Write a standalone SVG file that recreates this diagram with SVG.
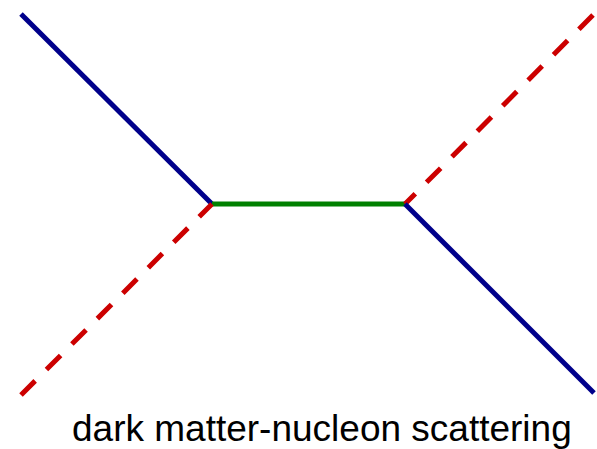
<svg xmlns="http://www.w3.org/2000/svg" width="597" height="449" viewBox="0 0 597 449">
<style>
.fermion{stroke:#00008b;stroke-width:5;fill:none}
.dm{stroke:#cc0000;stroke-width:5;fill:none;stroke-dasharray:20 16}
.med{stroke:#008000;stroke-width:5;fill:none}
.lbl{font-family:"Liberation Sans",Arial,sans-serif;font-size:37px;fill:#000}
</style>
<rect width="597" height="449" fill="#fff"/>
<g id="connectors">
<line class="fermion" x1="21" y1="14" x2="212" y2="204"/>
<line class="med" x1="212" y1="204" x2="405" y2="204"/>
<line class="dm" x1="21" y1="395" x2="212" y2="204"/>
<line class="dm" x1="593" y1="15" x2="405" y2="204"/>
<line class="fermion" x1="405" y1="204" x2="594" y2="393"/>
</g>
<g id="caption">
<text class="lbl" x="72" y="441">dark matter-nucleon scattering</text>
</g>
</svg>
